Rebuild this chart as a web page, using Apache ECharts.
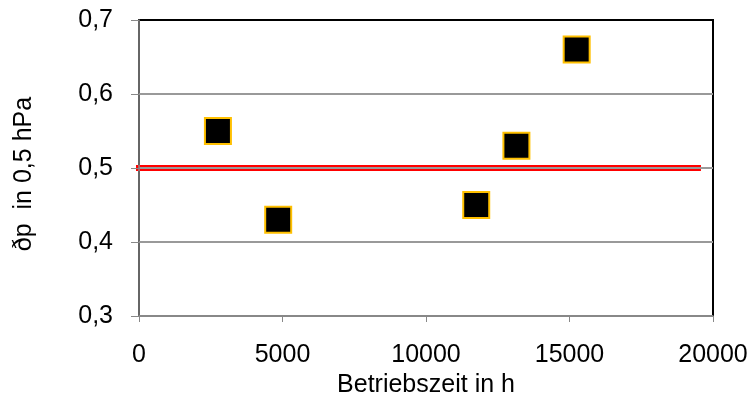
<!DOCTYPE html>
<html><head><meta charset="utf-8">
<script src="https://cdn.jsdelivr.net/npm/echarts@6/dist/echarts.min.js"></script>
<style>html,body{margin:0;padding:0;background:#fff}#c{width:755px;height:406px}</style>
</head><body><div id="c"></div>
<script>
const hours = [2750, 4850, 11750, 13150, 15250];
const dp = [0.55, 0.43, 0.45, 0.53, 0.66];
const limitX = [-380, 19580];
const limitY = [0.5, 0.5];
const xTicks = [0, 5000, 10000, 15000, 20000];
const yTicks = [0.3, 0.4, 0.5, 0.6, 0.7];

const font = '"Liberation Sans", Arial, sans-serif';
const fs = 25;
const chart = echarts.init(document.getElementById('c'));
chart.setOption({
  animation: false,
  grid: {left: 139, right: 42, top: 20, bottom: 90, show: true, borderColor: '#000', borderWidth: 2},
  xAxis: {
    type: 'value', min: xTicks[0], max: xTicks[xTicks.length-1], interval: 5000,
    name: 'Betriebszeit in h', nameLocation: 'middle', nameGap: 53,
    nameTextStyle: {fontFamily: font, fontSize: fs, color: '#000'},
    axisLine: {lineStyle: {color: '#888', width: 1.5}},
    axisTick: {show: true, length: 6, lineStyle: {color: '#888'}},
    axisLabel: {fontFamily: font, fontSize: fs, color: '#000', margin: 27,
      formatter: v => String(v)},
    splitLine: {show: false}
  },
  yAxis: {
    type: 'value', min: yTicks[0], max: yTicks[yTicks.length-1], interval: 0.1, z: 3,
    axisLine: {show: true, lineStyle: {color: '#888', width: 1.5}},
    axisTick: {show: true, length: 8, lineStyle: {color: '#888'}},
    axisLabel: {fontFamily: font, fontSize: fs, color: '#000', margin: 26,
      formatter: v => v.toFixed(1).replace('.', ',')},
    splitLine: {show: true, lineStyle: {color: ['#888', '#999', '#999', '#999', '#000'], width: 2}}
  },
  graphic: [{
    type: 'text', x: 24, y: 174, rotation: Math.PI/2,
    style: {text: 'ðp  in 0,5 hPa', font: fs + 'px ' + font, fill: '#000', align: 'center', verticalAlign: 'middle'}
  }],
  series: [
    {type: 'line', data: limitX.map((x, i) => [x, limitY[i]]), clip: false, symbol: 'none',
     lineStyle: {color: '#FF0000', width: 6}, z: 2},
    {type: 'scatter', data: hours.map((h, i) => [h, dp[i]]), symbol: 'rect', symbolSize: 26, z: 5,
     itemStyle: {color: '#000', opacity: 1, borderColor: '#FFC000', borderWidth: 2}}
  ]
});
</script></body></html>
